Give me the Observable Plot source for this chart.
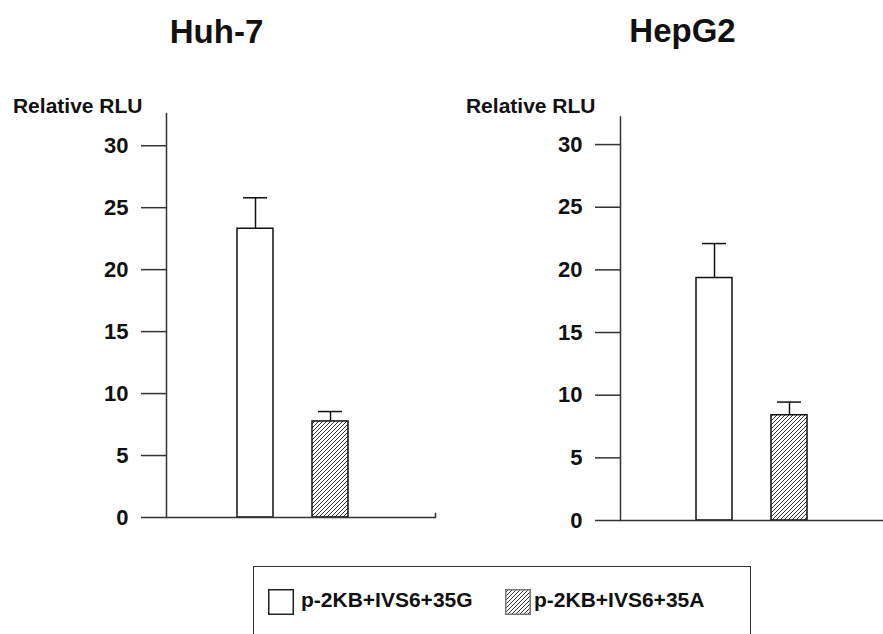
<!DOCTYPE html>
<html>
<head>
<meta charset="utf-8">
<script src="https://cdn.jsdelivr.net/npm/d3@7"></script>
<script src="https://cdn.jsdelivr.net/npm/@observablehq/plot@0.6"></script>
<style>
  html, body { margin: 0; padding: 0; background: #fff; }
  #root { position: relative; width: 883px; height: 634px; overflow: hidden; font-family: "Liberation Sans", Arial, sans-serif; color: #111; }
  #root svg.plot { position: absolute; top: 0; font-family: "Liberation Sans", Arial, sans-serif; }
  #legend { position: absolute; left: 253px; top: 566px; width: 498px; height: 100px; border: 1.5px solid #333; box-sizing: border-box; }
  .lg-sw { position: absolute; top: 22px; width: 26px; height: 26px; }
  .lg-tx { position: absolute; top: 22px; font-size: 21px; font-weight: bold; line-height: 21px; white-space: nowrap; color: #111; }
</style>
</head>
<body>
<svg width="0" height="0" style="position:absolute">
  <defs>
    <pattern id="hatch" patternUnits="userSpaceOnUse" width="4" height="4">
      <rect width="4" height="4" fill="#fff"></rect>
      <path d="M-1,1 l2,-2 M0,4 l4,-4 M3,5 l2,-2" stroke="#333" stroke-width="1"></path>
    </pattern>
  </defs>
</svg>
<div id="root"></div>
<script>
// ---- data ----
const cellLines = ["Huh-7", "HepG2"];
const constructs = ["p-2KB+IVS6+35G", "p-2KB+IVS6+35A"];
const huh7Means = [23.3, 7.75];
const huh7Errors = [2.5, 0.8];
const hepg2Means = [19.35, 8.4];
const hepg2Errors = [2.75, 1.05];
const yTicks = [0, 5, 10, 15, 20, 25, 30];
const yLabel = "Relative RLU";

const root = document.getElementById("root");
const lineColor = "#333";

function panel(opts) {
  const data = constructs.map((c, i) => ({construct: c, mean: opts.means[i], top: opts.means[i] + opts.errors[i]}));
  const marks = [
    Plot.barY(data, {x: "construct", y: "mean", fill: "construct", stroke: "#111", strokeWidth: 1.5}),
    Plot.ruleX(data, {x: "construct", y1: "mean", y2: "top", stroke: "#111", strokeWidth: 1.5}),
    Plot.tickY(data, {x: "construct", y: "top", stroke: "#111", strokeWidth: 1.5, insetLeft: 6, insetRight: 6}),
    Plot.frame({anchor: "left", stroke: lineColor, strokeWidth: 1.5}),
    Plot.ruleY([0], {stroke: lineColor, strokeWidth: 1.5}),
    Plot.axisY({ticks: yTicks, tickSize: 25, tickPadding: 13, fontSize: 22, fontWeight: "bold", stroke: lineColor, strokeWidth: 1.5, label: null}),
    Plot.text([yLabel], {frameAnchor: "top-left", dx: opts.labelDx, dy: opts.labelDy, textAnchor: "end", lineAnchor: "bottom", fontSize: 21, fontWeight: "bold", fill: "#111"}),
    Plot.text([opts.title], {frameAnchor: "top-left", dx: opts.titleDx, dy: opts.titleDy, textAnchor: "middle", lineAnchor: "bottom", fontSize: 33, fontWeight: "bold", fill: "#111"})
  ];
  if (opts.endTick) marks.push(Plot.frame({anchor: "right", stroke: lineColor, strokeWidth: 1.5, insetTop: opts.endTick}));
  const svg = Plot.plot({
    width: opts.width,
    height: opts.height,
    marginLeft: opts.marginLeft,
    marginRight: opts.marginRight,
    marginTop: opts.marginTop,
    marginBottom: opts.marginBottom,
    style: {overflow: "visible", background: "transparent", color: "#111"},
    x: {type: "band", domain: constructs, paddingInner: opts.padIn, paddingOuter: opts.padOut, align: opts.align, axis: null},
    y: {domain: [0, opts.yMax], axis: null},
    color: {type: "ordinal", domain: constructs, range: ["#ffffff", "url(#hatch)"]},
    marks
  });
  svg.classList.add("plot");
  svg.style.left = opts.left + "px";
  root.appendChild(svg);
}

panel({
  title: cellLines[0], means: huh7Means, errors: huh7Errors,
  left: 0, width: 445, height: 530, marginLeft: 166, marginRight: 10, marginTop: 113, marginBottom: 13,
  yMax: 32.6, padIn: 0.526, padOut: 1.033, align: 0.446,
  labelDx: -24, labelDy: -1, titleDx: 50, titleDy: -71, endTick: 400
});
panel({
  title: cellLines[1], means: hepg2Means, errors: hepg2Errors,
  left: 440, width: 443, height: 530, marginLeft: 180, marginRight: 0, marginTop: 116.5, marginBottom: 10,
  yMax: 32.2, padIn: 0.52, padOut: 1.013, align: 0.497,
  labelDx: -25, labelDy: -4, titleDx: 62, titleDy: -75, endTick: 0
});

// ---- legend ----
const legend = d3.select(root).append("div").attr("id", "legend");
const swatchFills = ["#ffffff", "url(#hatch)"];
const swatchX = [14, 251];
const textX = [47, 280];
constructs.forEach((c, i) => {
  const sw = legend.append("svg").attr("class", "lg-sw").style("left", swatchX[i] + "px").attr("width", 26).attr("height", 26);
  sw.append("rect").attr("x", 0.75).attr("y", 0.75).attr("width", 24.5).attr("height", 24.5)
    .attr("fill", swatchFills[i]).attr("stroke", i === 0 ? "#222" : "#777").attr("stroke-width", 1.5);
  legend.append("div").attr("class", "lg-tx").style("left", textX[i] + "px").text(c);
});
</script>
</body>
</html>
